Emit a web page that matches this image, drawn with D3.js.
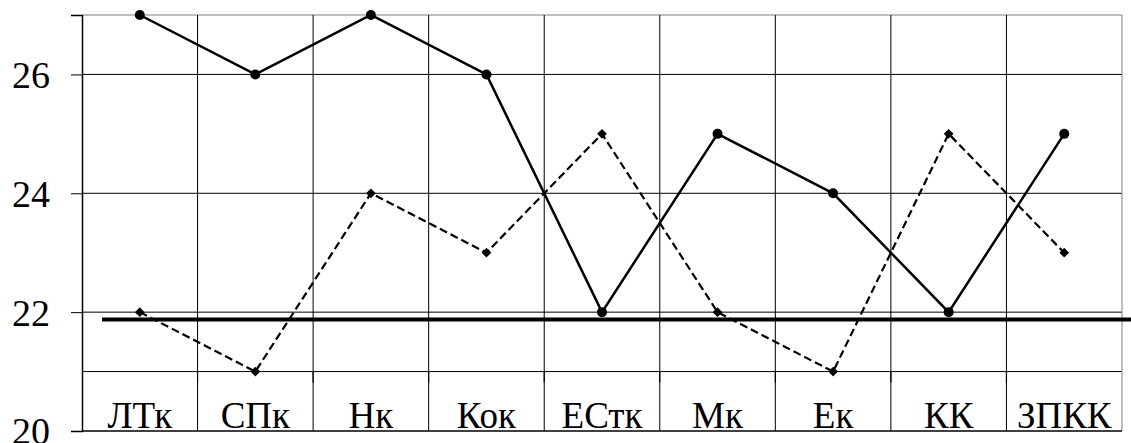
<!DOCTYPE html>
<html>
<head>
<meta charset="utf-8">
<script src="https://cdn.jsdelivr.net/npm/d3@7"></script>
<style>
  html, body { margin: 0; padding: 0; background: #fff; }
  svg { display: block; }
</style>
</head>
<body>
<svg id="chart" width="1131" height="443"></svg>
<script>
// ---- data ----
const categories = ["ЛТк", "СПк", "Нк", "Кок", "ЕСтк", "Мк", "Ек", "КК", "ЗПКК"];
const solidSeries = [27, 26, 27, 26, 22, 25, 24, 22, 25];
const dashedSeries = [22, 21, 24, 23, 25, 22, 21, 25, 23];
const yTickValues = [20, 22, 24, 26];
const yGridValues = [21, 22, 24, 26, 27];
const yDomain = [20, 27];
const xAxisCrossValue = 21;
const referenceValue = 21.875;

// ---- layout ----
const W = 1131, H = 443;
const margin = { top: 15, right: 9, bottom: 12, left: 82 };
const FONT = "Liberation Serif";
const svg = d3.select("#chart");

const x = d3.scaleBand().domain(categories)
  .range([margin.left, W - margin.right]).padding(0);
const y = d3.scaleLinear().domain(yDomain)
  .range([H - margin.bottom, margin.top]);
const cx = c => x(c) + x.bandwidth() / 2;

// horizontal grid lines
svg.append("g").selectAll("line").data(yGridValues).join("line")
  .attr("x1", margin.left).attr("x2", W - margin.right)
  .attr("y1", d => y(d)).attr("y2", d => y(d))
  .attr("stroke", d => d === 27 ? "#808080" : "#000")
  .attr("stroke-width", 1);

// vertical grid lines (band boundaries)
const boundaries = categories.slice(1).map(c => x(c)).concat([W - margin.right]);
svg.append("g").selectAll("line").data(boundaries).join("line")
  .attr("x1", d => d).attr("x2", d => d)
  .attr("y1", y(yDomain[1])).attr("y2", y(yDomain[0]))
  .attr("stroke", (d, i) => i === boundaries.length - 1 ? "#808080" : "#000")
  .attr("stroke-width", 1);

// category axis ticks at y = 21
svg.append("g").selectAll("line").data(boundaries.slice(0, -1)).join("line")
  .attr("x1", d => d).attr("x2", d => d)
  .attr("y1", y(xAxisCrossValue)).attr("y2", y(xAxisCrossValue) + 11)
  .attr("stroke", "#000").attr("stroke-width", 1.2);

// bottom frame
svg.append("line")
  .attr("x1", margin.left).attr("x2", W - margin.right)
  .attr("y1", y(yDomain[0])).attr("y2", y(yDomain[0]))
  .attr("stroke", "#000").attr("stroke-width", 1.5);

// y axis
const yAxis = d3.axisLeft(y).tickValues(yTickValues).tickSize(11).tickPadding(21)
  .tickFormat(d3.format("d"));
const gy = svg.append("g").attr("transform", `translate(${margin.left},0)`).call(yAxis)
  .attr("font-family", FONT).attr("font-size", 38);
gy.select(".domain").attr("stroke", "#000").attr("stroke-width", 1.5);
gy.selectAll(".tick line").attr("stroke", "#000").attr("stroke-width", 1);
gy.selectAll(".tick text")
  .attr("font-family", FONT).attr("font-size", 38)
  .attr("fill", "#000").attr("dy", "0.34em");

// category labels
svg.append("g").selectAll("text").data(categories).join("text")
  .attr("x", d => cx(d)).attr("y", y(yDomain[0]) - 3)
  .attr("text-anchor", "middle")
  .attr("font-family", FONT).attr("font-size", 37).attr("fill", "#000")
  .text(d => d);

// reference thick line
svg.append("line")
  .attr("x1", margin.left + 20).attr("x2", W)
  .attr("y1", y(referenceValue)).attr("y2", y(referenceValue))
  .attr("stroke", "#000").attr("stroke-width", 4);

// dashed series
const dashedPts = categories.map((c, i) => [cx(c), y(dashedSeries[i])]);
svg.append("path").attr("d", d3.line()(dashedPts))
  .attr("fill", "none").attr("stroke", "#000").attr("stroke-width", 2.2)
  .attr("stroke-dasharray", "8,4");
svg.append("g").selectAll("path").data(dashedPts).join("path")
  .attr("d", d3.symbol(d3.symbolDiamond2, 60)())
  .attr("transform", d => `translate(${d[0]},${d[1]})`)
  .attr("fill", "#000");

// solid series
const solidPts = categories.map((c, i) => [cx(c), y(solidSeries[i])]);
svg.append("path").attr("d", d3.line()(solidPts))
  .attr("fill", "none").attr("stroke", "#000").attr("stroke-width", 2.5);
svg.append("g").selectAll("circle").data(solidPts).join("circle")
  .attr("cx", d => d[0]).attr("cy", d => d[1]).attr("r", 5)
  .attr("fill", "#000");
</script>
</body>
</html>
